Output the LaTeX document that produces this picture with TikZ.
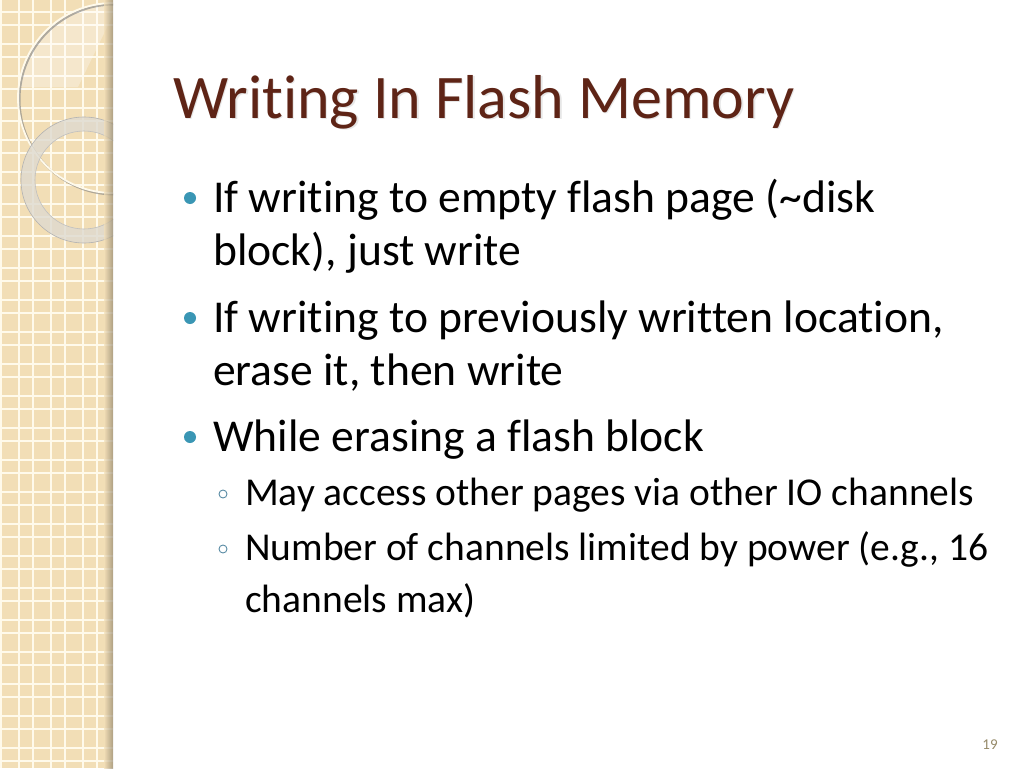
\documentclass[tikz,border=0pt]{standalone}
\usepackage{fontspec}
\setmainfont{Carlito}[Ligatures=NoCommon]
\definecolor{stripc}{RGB}{242,222,182}
\definecolor{gridc}{RGB}{255,250,235}
\definecolor{titlec}{RGB}{94,36,22}
\definecolor{bulletc}{RGB}{58,150,180}
\definecolor{subbc}{RGB}{90,140,165}
\definecolor{ringc}{RGB}{222,218,208}
\definecolor{numc}{RGB}{150,138,105}
\tikzset{
  body/.style={anchor=base west, inner sep=0pt, font=\fontsize{45.6}{54}\selectfont, text=black},
  subtext/.style={anchor=base west, inner sep=0pt, font=\fontsize{39.5}{46}\selectfont, text=black},
  titletext/.style={anchor=base west, inner sep=0pt, font=\fontsize{62}{72}\selectfont, text=titlec},
  dotb/.style={circle, fill=bulletc, inner sep=0pt, minimum size=12pt},
  ringb/.style={circle, draw=subbc, line width=0.9pt, inner sep=0pt, minimum size=8pt},
  gridline/.style={draw=gridc, line width=1.6pt}
}
\begin{document}
\begin{tikzpicture}[x=1pt,y=-1pt]
\useasboundingbox (0,0) rectangle (1024,768);
\fill[white] (0,0) rectangle (1024,768);
% left strip
\fill[stripc] (0,0) rectangle (113,768);
\begin{scope}
\clip (0,0) rectangle (113,768);
\foreach \k in {-1,...,3} {
  \draw[gridline] (\k*32+19,0) -- (\k*32+19,768);
  \draw[gridline] (\k*32+33,0) -- (\k*32+33,768);
}
\foreach \k in {0,...,24} {
  \draw[gridline] (0,\k*32+12) -- (113,\k*32+12);
  \draw[gridline] (0,\k*32+25) -- (113,\k*32+25);
}
% lighter wedge in big circle
\begin{scope}
\clip (113,98) circle (95);
\fill[white, opacity=0.3] (0,0) -- (113,0) -- (113,15) -- (78,87) -- (0,87) -- cycle;
\end{scope}
% big thin ring with shadow
\draw[black!50, opacity=0.6, line width=2pt] (114.5,99.5) circle (95);
\draw[gridc, line width=1.8pt] (113,98) circle (95);
% thick translucent ring
\fill[ringc, opacity=0.8, even odd rule] (84,180) circle (63) (84,180) circle (49);
\draw[black!30, line width=0.6pt] (84,180) circle (63);
\draw[black!25, line width=0.6pt] (84,180) circle (49);
% right edge shadow
\shade[left color=stripc, right color=black!40!stripc, opacity=0.7] (104,0) rectangle (113,768);
\end{scope}
% title with faint shadow
\node[titletext, text=black!30, opacity=0.3] (tshadow) at (174.5,119.5) {Writing In Flash Memory};
\node[titletext] (title) at (173,118) {Writing In Flash Memory};
% bullets
\node[dotb] (d1) at (190,198) {};
\node[body] (t1a) at (213,212) {If writing to empty flash page (\textasciitilde disk};
\node[body] (t1b) at (213,265) {block), just write};
\node[dotb] (d2) at (190,318) {};
\node[body] (t2a) at (213,332) {If writing to previously written location,};
\node[body] (t2b) at (213,385) {erase it, then write};
\node[dotb] (d3) at (190,437) {};
\node[body] (t3) at (213,451) {While erasing a flash block};
\node[ringb] (s1) at (223,494) {};
\node[subtext] (u1) at (245,505) {May access other pages via other IO channels};
\node[ringb] (s2) at (223,549) {};
\node[subtext] (u2a) at (245,560) {Number of channels limited by power (e.g., 16};
\node[subtext] (u2b) at (245,612) {channels max)};
% page number
\node[anchor=base, inner sep=0pt, font=\fontsize{15}{18}\selectfont, text=numc] (pn) at (990,749) {19};
\end{tikzpicture}
\end{document}
